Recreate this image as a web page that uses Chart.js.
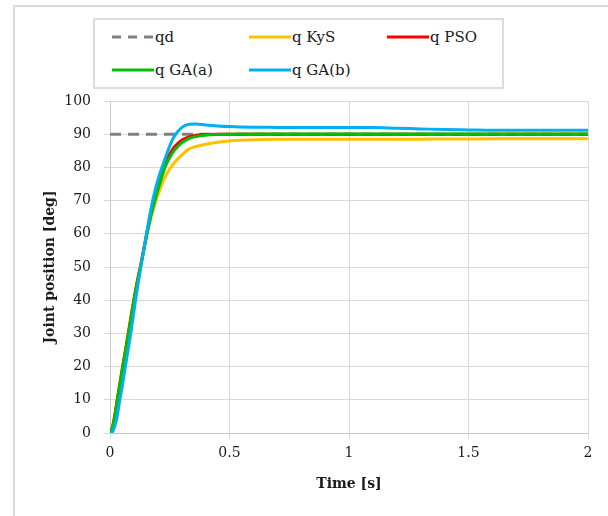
<!DOCTYPE html>
<html>
<head>
<meta charset="utf-8">
<script src="https://cdn.jsdelivr.net/npm/chart.js@4.4.1/dist/chart.umd.min.js"></script>
<style>
    html, body { margin: 0; padding: 0; background: #ffffff; }
    body { width: 608px; height: 516px; position: relative; overflow: hidden; }
    #marco { position: absolute; left: 13px; top: 5px; width: 700px; height: 600px; border: 2px solid #dcdcdc; }
    #grafico { position: absolute; left: 0; top: 0; }
    #leyenda { position: absolute; left: 93px; top: 18px; width: 411px; height: 71px; box-sizing: border-box; border: 2px solid #dcdcdc; background: #fff; }
    .item { position: absolute; height: 20px; display: flex; align-items: center; font-family: "DejaVu Serif", "Liberation Serif", serif; font-size: 15px; color: #1a1a1a; white-space: nowrap; }
    .item svg { margin-right: 1px; }
</style>
</head>
<body>
<div id="marco"></div>
<canvas id="grafico" width="608" height="516"></canvas>
<div id="leyenda"></div>
<script>
// Tiempo [s]
const tiempo = [0, 0.01, 0.02, 0.03, 0.04, 0.05, 0.07, 0.09, 0.11, 0.13, 0.15, 0.17, 0.19, 0.21, 0.23, 0.25, 0.27, 0.3, 0.33, 0.36, 0.4, 0.45, 0.5, 0.6, 0.7, 0.8, 1.0, 1.1, 1.2, 1.3, 1.4, 1.5, 1.6, 1.8, 2.0];

// Posiciones articulares [deg]
const qd    = [90, 90, 90, 90, 90, 90, 90, 90, 90, 90, 90, 90, 90, 90, 90, 90, 90, 90, 90, 90, 90, 90, 90, 90, 90, 90, 90, 90, 90, 90, 90, 90, 90, 90, 90];
const qKyS  = [0, 1.7, 5.5, 10, 14.5, 19, 27.5, 36.3, 44.5, 51.5, 58.5, 64.5, 69.5, 73.5, 77, 79.5, 81.5, 83.7, 85.5, 86.3, 87.0, 87.6, 87.95, 88.3, 88.45, 88.5, 88.5, 88.5, 88.5, 88.5, 88.55, 88.55, 88.6, 88.6, 88.6];
const qPSO  = [0, 1.6, 5.2, 9.8, 14.2, 18.6, 27, 35.8, 44, 51, 58.6, 65.6, 71.5, 76.5, 81, 84, 86.2, 88.2, 89.2, 89.7, 89.9, 90, 90, 90, 90, 90, 90, 90, 90, 90, 90, 90, 90, 90, 90];
const qGAa  = [0, 1.5, 5, 9.5, 14, 18.3, 26.7, 35.5, 43.8, 50.7, 58.2, 65, 70.6, 75.5, 80, 83, 85.2, 87.4, 88.7, 89.3, 89.7, 89.9, 90, 90.05, 90.05, 90.05, 90.05, 90.05, 90.05, 90.05, 90.05, 90.05, 90.05, 90.05, 90.05];
const qGAb  = [0, 0.3, 2, 5, 9.5, 13.5, 22.5, 31.5, 41.5, 50.5, 59, 67, 73.5, 78.5, 82.5, 86.5, 89.5, 92, 93, 93.1, 92.8, 92.5, 92.3, 92.1, 92.05, 92, 92, 92, 91.8, 91.6, 91.4, 91.3, 91.2, 91.2, 91.2];

// Ejes
const ticksX = [0, 0.5, 1, 1.5, 2];
const ticksY = [0, 10, 20, 30, 40, 50, 60, 70, 80, 90, 100];

// order: el menor se dibuja encima
const series = [
    { label: "qd", datos: qd, color: "#808080", guion: [11, 7], orden: 5 },
    { label: "q KyS", datos: qKyS, color: "#ffc000", guion: [], orden: 4 },
    { label: "q PSO", datos: qPSO, color: "#ff0000", guion: [], orden: 3 },
    { label: "q GA(a)", datos: qGAa, color: "#00c000", guion: [], orden: 2 },
    { label: "q GA(b)", datos: qGAb, color: "#00b0f0", guion: [], orden: 1 }
];

Chart.defaults.font.family = "'DejaVu Serif', 'Liberation Serif', serif";
Chart.defaults.font.size = 14;
Chart.defaults.color = "#1a1a1a";

const ctx = document.getElementById("grafico").getContext("2d");
const grafico = new Chart(ctx, {
    type: "line",
    data: {
        datasets: series.map((s) => ({
            label: s.label,
            data: tiempo.map((t, i) => ({ x: t, y: s.datos[i] })),
            borderColor: s.color,
            backgroundColor: s.color,
            borderWidth: 3,
            borderDash: s.guion,
            pointRadius: 0,
            fill: false,
            order: s.orden,
            cubicInterpolationMode: "monotone"
        }))
    },
    options: {
        responsive: false,
        animation: false,
        layout: { padding: { left: 0, right: 20, top: 101, bottom: 23 } },
        plugins: {
            legend: { display: false },
            tooltip: { enabled: false }
        },
        scales: {
            x: {
                type: "linear",
                min: 0,
                max: 2,
                afterBuildTicks: (scale) => { scale.ticks = ticksX.map((v) => ({ value: v })); },
                afterFit: (scale) => { scale.height = 60; },
                ticks: { padding: 6, maxRotation: 0, callback: (v) => String(v) },
                grid: { color: "#d9d9d9", tickLength: 6 },
                border: { color: "#c8c8c8" },
                title: {
                    display: true,
                    text: "Time [s]",
                    font: { weight: "bold", size: 14 },
                    padding: { top: 0, bottom: 0 }
                }
            },
            y: {
                min: 0,
                max: 100,
                afterBuildTicks: (scale) => { scale.ticks = ticksY.map((v) => ({ value: v })); },
                afterFit: (scale) => { scale.width = 110; },
                ticks: { padding: 13 },
                grid: { color: "#d9d9d9", tickLength: 6 },
                border: { color: "#c8c8c8" },
                title: {
                    display: true,
                    text: "Joint position [deg]",
                    font: { weight: "bold", size: 14 },
                    padding: { top: 42, bottom: 0 }
                }
            }
        }
    }
});

// Leyenda en caja, a partir de los datasets
const posiciones = [[112, 27], [249, 27], [387, 27], [112, 60], [249, 60]];
const leyenda = document.getElementById("leyenda");
grafico.data.datasets.forEach((ds, i) => {
    const item = document.createElement("div");
    item.className = "item";
    item.style.left = (posiciones[i][0] - 95) + "px";
    item.style.top = (posiciones[i][1] - 20) + "px";
    const dash = ds.borderDash.length ? 'stroke-dasharray="9 7"' : "";
    item.innerHTML = `<svg width="42" height="6"><line x1="0" y1="3" x2="42" y2="3" stroke="${ds.borderColor}" stroke-width="3" ${dash}/></svg><span>${ds.label}</span>`;
    leyenda.appendChild(item);
});
</script>
</body>
</html>
